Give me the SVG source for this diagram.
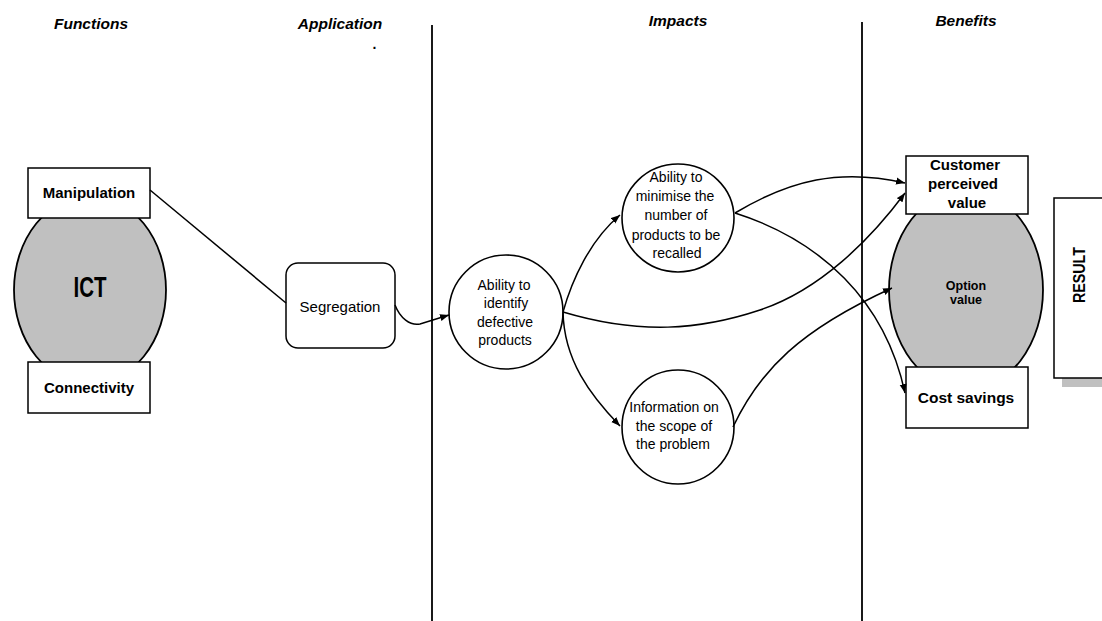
<svg xmlns="http://www.w3.org/2000/svg" width="1102" height="621" viewBox="0 0 1102 621">
<style>
.hdr{font-family:"Liberation Sans",Arial,sans-serif;font-size:15.5px;font-weight:bold;font-style:italic;fill:#000;text-anchor:middle}
.lbl{font-family:"Liberation Sans",Arial,sans-serif;font-size:15px;font-weight:bold;fill:#000;text-anchor:middle}
.txt{font-family:"Liberation Sans",Arial,sans-serif;font-size:14px;fill:#000;text-anchor:middle}
.box{fill:#fff;stroke:#000;stroke-width:1.5}
.blob{fill:#c0c0c0;stroke:#000;stroke-width:1.8}
.circ{fill:#fff;stroke:#000;stroke-width:1.6}
.con{fill:none;stroke:#000;stroke-width:1.5}
.div{stroke:#000;stroke-width:1.8}
</style>
<defs>
<marker id="arr" markerUnits="userSpaceOnUse" markerWidth="10" markerHeight="8" refX="9" refY="4" orient="auto">
<path d="M0,0.5 L9,4 L0,7.5 Z" fill="#000"/>
</marker>
</defs>
<rect width="1102" height="621" fill="#fff"/>
<g id="headers">
<text class="hdr" x="91" y="29">Functions</text>
<text class="hdr" x="340" y="29">Application</text>
<text x="372.5" y="49" style="font-family:'Liberation Sans',Arial,sans-serif;font-size:14px;font-weight:bold;fill:#000">.</text>
<text class="hdr" x="678" y="26">Impacts</text>
<text class="hdr" x="966" y="26">Benefits</text>
</g>
<g id="dividers">
<line class="div" x1="432" y1="25" x2="432" y2="621"/>
<line class="div" x1="862" y1="22" x2="862" y2="621"/>
</g>
<g id="ict">
<ellipse class="blob" cx="90" cy="290" rx="76" ry="94"/>
<text x="90" y="297" textLength="33" lengthAdjust="spacingAndGlyphs" style="font-family:'Liberation Sans',Arial,sans-serif;font-size:29px;font-weight:bold;text-anchor:middle">ICT</text>
</g>
<g id="manipulation">
<rect class="box" x="28" y="168" width="122" height="50"/>
<text class="lbl" x="89" y="198">Manipulation</text>
</g>
<g id="connectivity">
<rect class="box" x="28" y="362" width="122" height="51"/>
<text class="lbl" x="89" y="393">Connectivity</text>
</g>
<g id="segregation">
<rect class="box" x="286" y="263" width="109" height="85" rx="12" ry="12"/>
<text class="txt" x="340" y="312" style="font-size:15px">Segregation</text>
</g>
<g id="identify">
<circle class="circ" cx="506" cy="312" r="57"/>
<text class="txt"><tspan x="504" y="290">Ability to</tspan><tspan x="506" y="308">identify</tspan><tspan x="505" y="327">defective</tspan><tspan x="505" y="345">products</tspan></text>
</g>
<g id="minimise">
<ellipse class="circ" cx="678" cy="218" rx="56" ry="54"/>
<text class="txt"><tspan x="676" y="182">Ability to</tspan><tspan x="675" y="201">minimise the</tspan><tspan x="676" y="220">number of</tspan><tspan x="676" y="240">products to be</tspan><tspan x="677" y="258">recalled</tspan></text>
</g>
<g id="information">
<ellipse class="circ" cx="678" cy="427" rx="56" ry="57"/>
<text class="txt"><tspan x="674" y="412">Information on</tspan><tspan x="674" y="431">the scope of</tspan><tspan x="673" y="449">the problem</tspan></text>
</g>
<g id="option">
<ellipse class="blob" cx="966" cy="290" rx="77" ry="100"/>
<text class="lbl" style="font-size:12.5px"><tspan x="966" y="290">Option</tspan><tspan x="966" y="304">value</tspan></text>
</g>
<g id="customer">
<rect class="box" x="906" y="156" width="122" height="58"/>
<text class="lbl"><tspan x="965" y="170">Customer</tspan><tspan x="963" y="189">perceived</tspan><tspan x="967" y="208">value</tspan></text>
</g>
<g id="cost">
<rect class="box" x="906" y="367" width="122" height="61"/>
<text class="lbl" x="966" y="403" style="font-size:15.5px">Cost savings</text>
</g>
<g id="result">
<rect x="1062" y="206" width="60" height="181" fill="#c0c0c0"/>
<rect class="box" x="1054" y="198" width="60" height="180"/>
<text transform="translate(1085,275) rotate(-90)" x="0" y="0" textLength="56" lengthAdjust="spacingAndGlyphs" style="font-family:'Liberation Sans',Arial,sans-serif;font-size:17px;font-weight:bold;text-anchor:middle">RESULT</text>
</g>
<g id="connectors">
<line class="con" x1="150" y1="190" x2="286" y2="303"/>
<path class="con" d="M395,305 C400,318 410,326 420,324 L449,315" marker-end="url(#arr)"/>
<path class="con" d="M563,312 C572,280 590,240 620,215" marker-end="url(#arr)"/>
<path class="con" d="M563,312 C564,360 590,395 620,426" marker-end="url(#arr)"/>
<path class="con" d="M563,312 C640,335 700,330 760,310 C820,290 870,240 905,193" marker-end="url(#arr)"/>
<path class="con" d="M735,213 C790,180 840,168 905,183" marker-end="url(#arr)"/>
<path class="con" d="M735,213 C820,240 885,300 905,393" marker-end="url(#arr)"/>
<path class="con" d="M733,427 C760,370 800,330 892,288" marker-end="url(#arr)"/>
</g>
</svg>
